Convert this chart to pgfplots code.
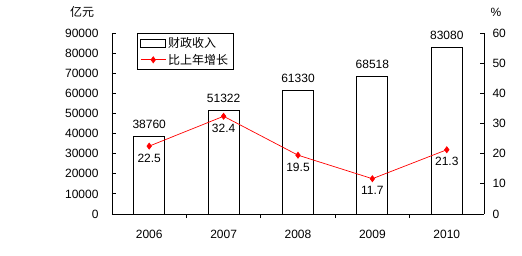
\documentclass[border=0pt]{standalone}
\usepackage{pgfplots}
\pgfplotsset{compat=1.18}
\usepackage{fontspec}
\setmainfont{Liberation Sans}
\newfontfamily\cjk{Noto Sans CJK SC}
\begin{document}
\begin{tikzpicture}[font=\fontsize{12}{14}\selectfont]
\path[use as bounding box] (-112pt,-41pt) rectangle (410pt,214pt);
\begin{axis}[
  scale only axis, width=372pt, height=181pt,
  at={(0pt,0pt)}, anchor=south west,
  xmin=-0.5, xmax=4.5, ymin=0, ymax=90000,
  axis x line*=bottom, axis y line*=left,
  xtick={0,1,2,3,4}, xticklabels={2006,2007,2008,2009,2010},
  major x tick style={draw=none},
  minor xtick={0.5,1.5,2.5,3.5},
  ytick={0,10000,...,90000},
  scaled y ticks=false,
  tick align=inside, major tick length=4pt, minor tick length=4pt,
  tick style={black, line width=0.8pt},
  axis line style={black, line width=0.8pt},
  /pgf/number format/assume math mode=true,
  /pgf/number format/1000 sep={},
  xticklabel style={yshift=-9pt},
  yticklabel style={xshift=-10pt},
  ylabel={\cjk 亿元},
  ylabel style={at={(axis description cs:-0.0806,1.116)}, rotate=-90, anchor=center},
  ybar, bar width=31pt,
]
\addplot[draw=black, fill=white, line width=0.8pt,
  nodes near coords, point meta=explicit symbolic,
  every node near coord/.append style={anchor=south, yshift=4pt}]
  coordinates {(0,38760)[38760] (1,51322)[51322] (2,61330)[61330] (3,68518)[68518] (4,83080)[83080]};
\end{axis}
\begin{axis}[
  scale only axis, width=372pt, height=181pt,
  at={(0pt,0pt)}, anchor=south west,
  xmin=-0.5, xmax=4.5, ymin=0, ymax=60,
  axis x line=none, axis y line*=right,
  ytick={0,10,...,60},
  tick align=inside, major tick length=4pt,
  tick style={black, line width=0.8pt},
  axis line style={black, line width=0.8pt},
  /pgf/number format/assume math mode=true,
  yticklabel style={xshift=5pt},
  ylabel={\%},
  ylabel style={at={(axis description cs:1.032,1.116)}, rotate=-90, anchor=center},
  legend style={at={(0.067,1)}, anchor=north west, draw=black, line width=0.8pt,
    font=\fontsize{12}{14}\selectfont\cjk, cells={anchor=west},
    inner xsep=3pt, inner ysep=2pt, row sep=1pt},
]
\addlegendimage{legend image code/.code={\draw[black, fill=white, line width=0.8pt] (0pt,-4pt) rectangle (25pt,4pt);}}
\addlegendentry{财政收入}
\addlegendimage{legend image code/.code={\draw[red, line width=0.7pt, mark=diamond*, mark size=3pt, mark options={fill=red, draw=red}, mark repeat=2, mark phase=2] plot coordinates {(0pt,0pt) (12.5pt,0pt) (25pt,0pt)};}}
\addlegendentry{比上年增长}
\addplot[red, line width=0.7pt, mark=diamond*, mark size=3pt,
  mark options={fill=red, draw=red},
  nodes near coords, point meta=explicit symbolic,
  every node near coord/.append style={anchor=north, black, yshift=-4pt}, forget plot]
  coordinates {(0,22.5)[22.5] (1,32.4)[32.4] (2,19.5)[19.5] (3,11.7)[11.7] (4,21.3)[21.3]};
\end{axis}
\end{tikzpicture}
\end{document}
